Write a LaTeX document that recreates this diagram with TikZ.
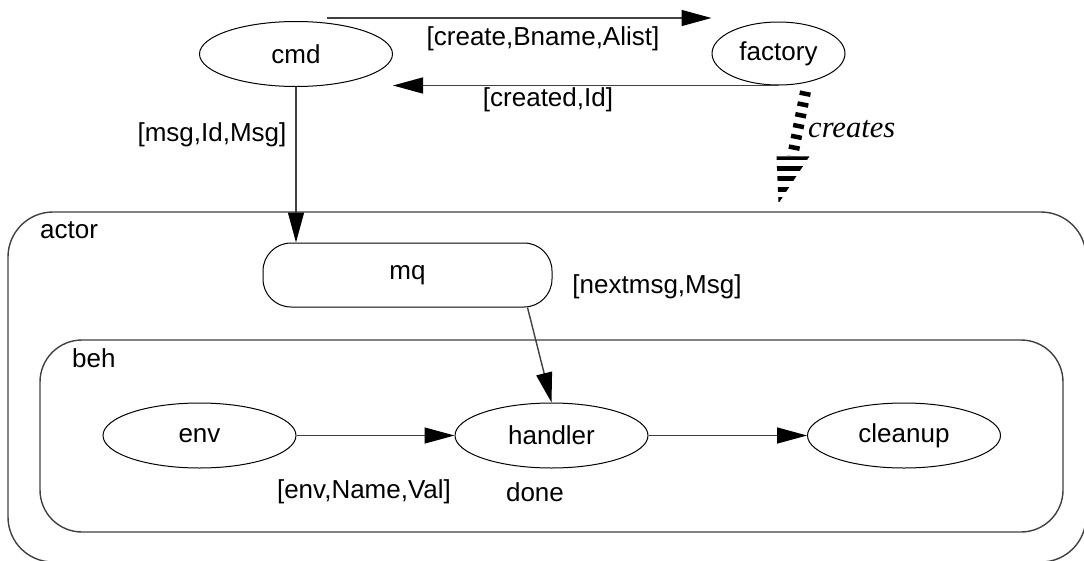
\documentclass[tikz,border=0pt]{standalone}
\usepackage{fontspec}
\setmainfont{Liberation Sans}
\newfontfamily\serifit{Liberation Serif}
\usetikzlibrary{shapes.geometric,arrows.meta,calc}

\begin{document}
\begin{tikzpicture}[x=1pt,y=-1pt, every node/.style={font=\fontsize{26}{30}\selectfont}, ovalnode/.style={ellipse,draw,line width=1pt,minimum width=193pt,minimum height=65pt,inner sep=0pt}, pillnode/.style={rectangle,draw,line width=1pt,rounded corners=28pt,minimum width=289pt,minimum height=64pt}, framebox/.style={rectangle,draw=black!75,line width=1.4pt}, msgline/.style={draw=black!75,line width=1.4pt,-{Triangle[length=30pt,width=16pt,black]}}, tagtext/.style={inner sep=0pt}]
		\useasboundingbox (0,0) rectangle (1084,560);
		\node[framebox, rounded corners=45pt, minimum width=1078pt, minimum height=350pt] (actor) at (547, 387) {};
		\node[framebox, rounded corners=42pt, minimum width=1023pt, minimum height=192pt] (beh) at (551.5, 436) {};
		\node[tagtext, anchor=west] (actortag) at (40, 230) {actor};
		\node[tagtext, anchor=west] (behtag) at (72, 358) {beh};
		\node[ovalnode] (cmd) at (296, 54) {cmd};
		\node[ovalnode, minimum width=133pt, minimum height=63pt] (factory) at (778.5, 53.5) {factory};
		\node[pillnode] (mq) at (407.5, 275) {mq};
		\node[ovalnode] (env) at (199.5, 435.5) {env};
		\node[ovalnode] (handler) at (551.5, 435.5) {handler};
		\node[ovalnode] (cleanup) at (904, 435.5) {cleanup};
		\coordinate (c1) at ([xshift=31pt,yshift=3pt]cmd.north);
		\coordinate (m1) at ([xshift=120pt]mq.south);
		\coordinate (cs) at ([xshift=27pt,yshift=-6pt]factory.south);
		\coordinate (ct) at ([yshift=8pt]factory.south |- actor.north);
		\draw[msgline] (c1) -- (c1 -| factory.west);
		\draw[msgline] (factory.south) -- (factory.south -| cmd.east);
		\draw[msgline] (cmd.south) -- (cmd.south |- mq.north);
		\draw[msgline] (m1) -- (handler.north);
		\draw[msgline] (env.east) -- (handler.west);
		\draw[msgline] (handler.east) -- (cleanup.west);
		\draw[line width=11pt, dash pattern=on 4.5pt off 6.5pt] (cs) -- ($(ct)+(14,-47)$);
		\begin{scope}
			\clip (ct) -- ++(-2,-47) -- ++(33,0) -- cycle;
			\foreach \k in {0,...,4}
				\fill ($(ct)+(-5,-48+10.5*\k)$) rectangle ++(40,5);
		\end{scope}
		\node[tagtext] (l1) at (543, 39) {[create,Bname,Alist]};
		\node[tagtext] (l2) at (548, 100) {[created,Id]};
		\node[tagtext] (l3) at (212, 135) {[msg,Id,Msg]};
		\node[tagtext] (l4) at (657, 287) {[nextmsg,Msg]};
		\node[tagtext] (l5) at (364, 492) {[env,Name,Val]};
		\node[tagtext] (l6) at (535, 492) {done};
		\node[tagtext, anchor=west, font=\serifit\itshape\fontsize{30.5}{34}\selectfont] (l7) at (808, 129) {creates};
	\end{tikzpicture}
\end{document}
